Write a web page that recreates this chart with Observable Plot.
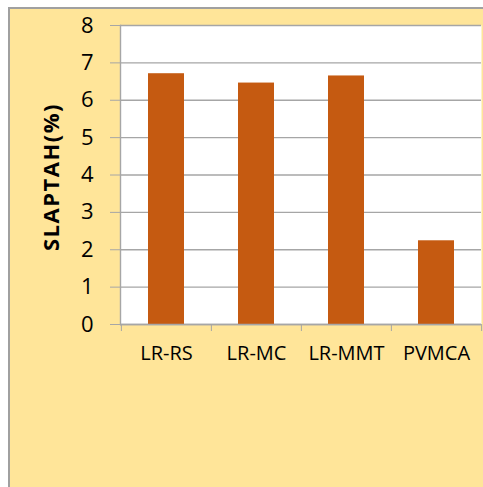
<!DOCTYPE html>
<html>
<head>
<meta charset="utf-8">
<script src="https://cdn.jsdelivr.net/npm/d3@7"></script>
<script src="https://cdn.jsdelivr.net/npm/@observablehq/plot@0.6"></script>
<style>
  html, body { margin: 0; padding: 0; background: #fff; }
  #wrap { position: relative; width: 483px; height: 487px; overflow: hidden; }
  #panel {
    position: absolute; left: 8px; top: 7px; right: 0; bottom: 0;
    background: #FFE599;
    border-left: 2px solid #a0a0a0;
    border-top: 2px solid #a0a0a0;
  }
  #chart { position: absolute; left: 0; top: 0; }
  #chart svg { background: transparent !important; }
  .ytitle text { letter-spacing: 1.5px; }
</style>
</head>
<body>
<div id="wrap"><div id="panel"></div><div id="chart"></div></div>
<script>
// Methods and their SLAPTAH percentages
const methods = ["LR-RS", "LR-MC", "LR-MMT", "PVMCA"];
const slaptah = [6.71, 6.46, 6.65, 2.24];
const yTicks = [0, 1, 2, 3, 4, 5, 6, 7, 8];
const yTitle = "SLAPTAH(%)";

const data = methods.map((m, i) => ({method: m, value: slaptah[i]}));

const W = 483, H = 487;
const mL = 120, mR = 2, mT = 25, mB = 163;
const halfStep = (W - mL - mR) / methods.length / 2;
const gridColor = "#a6a6a6";
const font = "'Open Sans', sans-serif";

const chart = Plot.plot({
  width: W,
  height: H,
  marginLeft: mL,
  marginRight: mR,
  marginTop: mT,
  marginBottom: mB,
  style: {background: "transparent", fontFamily: font, color: "#000"},
  x: {domain: methods, paddingInner: 0.6, paddingOuter: 0.3, axis: null},
  y: {domain: [0, 8], axis: null},
  marks: [
    Plot.frame({fill: "white", stroke: null}),
    Plot.gridY(yTicks, {stroke: gridColor, strokeOpacity: 1, strokeWidth: 1.4}),
    Plot.axisY({ticks: yTicks, tickSize: 10, tickPadding: 17, stroke: gridColor, strokeOpacity: 1,
      fontSize: 22, fill: "#000", label: null}),
    Plot.barY(data, {x: "method", y: "value", fill: "#C55A11"}),
    Plot.frame({anchor: "left", stroke: gridColor, strokeWidth: 1.4}),
    Plot.ruleY([0], {stroke: gridColor, strokeWidth: 1.4}),
    // category boundary ticks below the baseline
    Plot.axisX({ticks: methods, tickSize: 7, text: null, stroke: gridColor, strokeOpacity: 1, dx: -halfStep, label: null}),
    Plot.axisX({ticks: methods.slice(-1), tickSize: 7, text: null, stroke: gridColor, strokeOpacity: 1, dx: halfStep, label: null}),
    // category labels
    Plot.axisX({ticks: methods, tickSize: 0, tickPadding: 21, fontSize: 20, fill: "#000", label: null}),
    Plot.text([yTitle], {frameAnchor: "left", textAnchor: "middle", rotate: -90, dx: -69, dy: 2,
      fontSize: 22, fontWeight: "bold", fill: "#000", className: "ytitle"})
  ]
});
document.getElementById("chart").appendChild(chart);
</script>
</body>
</html>
